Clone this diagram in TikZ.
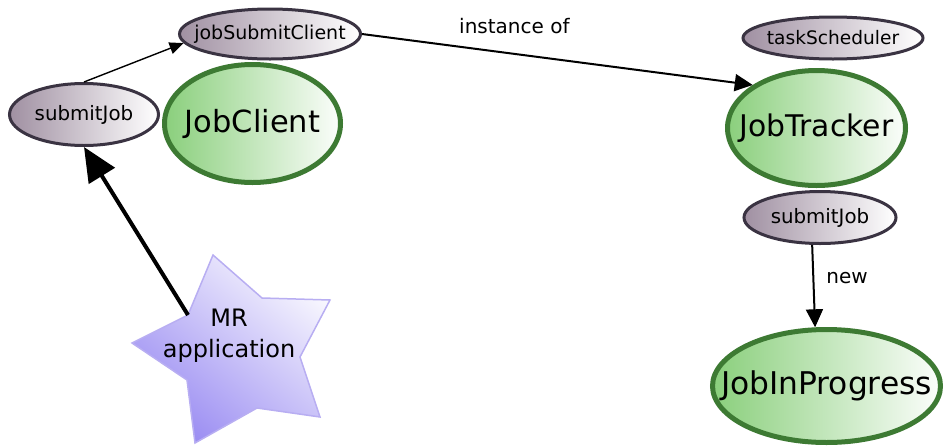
\documentclass[tikz,border=0pt]{standalone}
\usepackage{fontspec}
\setmainfont{DejaVu Sans}
\usetikzlibrary{arrows.meta,shapes.geometric}
\definecolor{smallborder}{HTML}{3A3342}
\definecolor{smallfill}{HTML}{A090A2}
\definecolor{bigborder}{HTML}{3D7A33}
\definecolor{bigfill}{HTML}{8ACF7C}
\definecolor{starfill}{HTML}{9A8CF2}
\definecolor{starborder}{HTML}{B8AEF2}
\tikzset{
  smallell/.style={ellipse, draw=smallborder, line width=3pt, left color=smallfill, right color=white, inner sep=0pt},
  bigell/.style={ellipse, draw=bigborder, line width=5pt, left color=bigfill, right color=white!97!bigfill, inner sep=0pt},
  smalltxt/.style={font=\fontsize{19.8}{22}\selectfont, inner sep=0pt},
  bigtxt/.style={font=\fontsize{31}{36}\selectfont, inner sep=0pt},
  lbl/.style={font=\fontsize{20}{23}\selectfont, inner sep=0pt},
  conn/.style={-{Triangle[length=18pt,width=17pt]}, line width=2pt},
  thinconn/.style={-{Triangle[length=14pt,width=12pt]}, line width=1.4pt},
  thickconn/.style={-{Triangle[length=34pt,width=30pt]}, line width=4pt},
}
\begin{document}
\begin{tikzpicture}[x=1pt,y=-1pt]
\useasboundingbox (0,0) rectangle (945,445);
% small ellipses
\node[smallell, minimum width=149pt, minimum height=62pt] (sjL) at (84,114.5) {};
\node[smalltxt] (sjLt) at (sjL.center) {submitJob};
\node[smallell, minimum width=181pt, minimum height=50pt] (jsc) at (270,34) {};
\node[smalltxt, font=\fontsize{19}{22}\selectfont] (jsct) at (jsc.center) {jobSubmitClient};
\node[smallell, minimum width=180pt, minimum height=42pt] (ts) at (833,38) {};
\node[smalltxt, font=\fontsize{18.6}{22}\selectfont] (tst) at (ts.center) {taskScheduler};
\node[smallell, minimum width=152pt, minimum height=52pt] (sjR) at (820,217.5) {};
\node[smalltxt] (sjRt) at (sjR.center) {submitJob};
% big ellipses
\node[bigell, minimum width=176pt, minimum height=118pt] (jc) at (252.5,123.5) {};
\node[bigtxt, font=\fontsize{30.5}{36}\selectfont] (jct) at (jc.center) {JobClient};
\node[bigell, minimum width=178pt, minimum height=115pt] (jt) at (816.5,128) {};
\node[bigtxt, font=\fontsize{29.8}{36}\selectfont] (jtt) at (jt.center) {JobTracker};
\node[bigell, minimum width=228pt, minimum height=113pt] (jip) at (826.5,386) {};
\node[bigtxt, font=\fontsize{31.3}{36}\selectfont] (jipt) at (jip.center) {JobInProgress};
% star
\draw[draw=starborder, line width=1.5pt,
      top color=white!92!starfill, bottom color=starfill, shading angle=-40]
  (213,255) -- (262,298) -- (330,300) -- (300,357) -- (320,417) -- (257,408)
  -- (195,443) -- (187,380) -- (132,343) -- (188,315) -- cycle;
\coordinate (starpt) at (188,315);
\node[font=\fontsize{24}{31}\selectfont, align=center, inner sep=0pt] (mr) at (229,336) {MR\\application};
% connectors
\draw[thinconn] (sjL.north) -- (jsc.186);
\draw[conn] (jsc.east) -- (jt.146) node[lbl, pos=0.39, yshift=28pt] (io) {instance of};
\draw[thickconn] (starpt) -- (sjL.south);
\draw[conn] (sjR.254) -- (jip.101) node[lbl, pos=0.4, right=12pt] (nw) {new};
\end{tikzpicture}
\end{document}
